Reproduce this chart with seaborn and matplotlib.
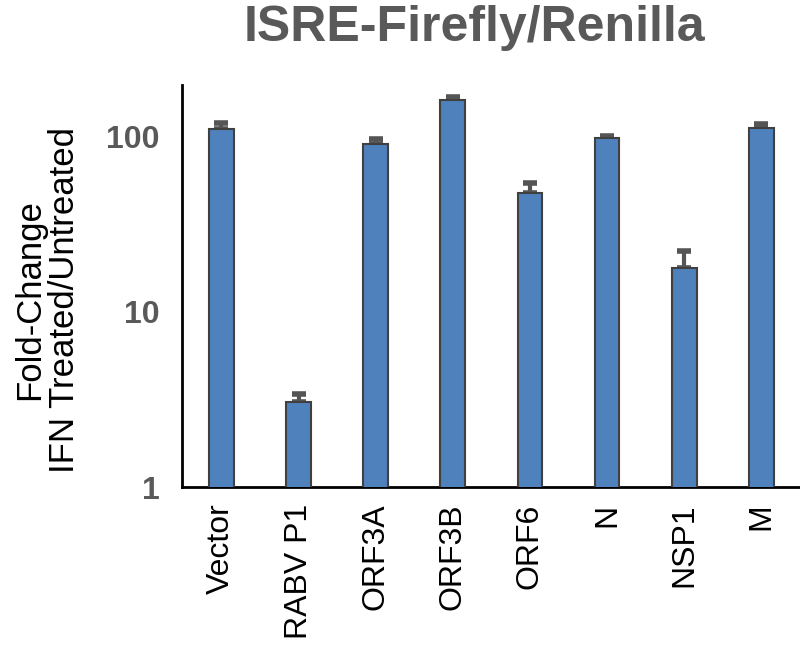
import matplotlib
matplotlib.use("Agg")
import matplotlib.pyplot as plt
import seaborn as sns
import pandas as pd
from matplotlib.ticker import FixedLocator, NullLocator, FixedFormatter

# values (log axis)
constructs = ['Vector', 'RABV P1', 'ORF3A', 'ORF3B', 'ORF6', 'N', 'NSP1', 'M']
fold_change = [109.6, 3.05, 90.0, 160.0, 47.3, 97.5, 17.7, 111.0]
error_up = [10.0, 0.32, 6.0, 7.0, 7.0, 2.5, 4.5, 7.0]
y_ticks = [1, 10, 100]
y_tick_labels = ['1', '10', '100']

df = pd.DataFrame({'construct': constructs, 'fold': fold_change})

sns.set_theme(style="white")
plt.rcParams['font.family'] = ['Liberation Sans', 'DejaVu Sans']

fig = plt.figure(figsize=(8, 6.56), dpi=100)
ax = fig.add_axes([0.2275, 0.2576, 0.7725, 0.6124])
ax.set_yscale('log')

sns.barplot(data=df, x='construct', y='fold', color='#4F81BD', width=0.32,
            edgecolor='#404040', linewidth=1.5, saturation=1, ax=ax, zorder=3)

# upper error bars only, lower cap hidden behind the bar
ax.errorbar(range(len(constructs)), fold_change, yerr=[[0] * len(error_up), error_up],
            fmt='none', ecolor='#555555', elinewidth=3, capsize=5, capthick=4, zorder=2)

ax.set_ylim(1, 195)
ax.set_xlim(-0.51, 7.5)
ax.yaxis.set_major_locator(FixedLocator(y_ticks))
ax.yaxis.set_major_formatter(FixedFormatter(y_tick_labels))
ax.yaxis.set_minor_locator(NullLocator())

for lab in ax.get_yticklabels():
    lab.set_fontweight('bold')
    lab.set_color('#595959')
    lab.set_fontsize(23)
ax.tick_params(axis='y', length=0, pad=16)
ax.tick_params(axis='x', length=0, pad=12, labelsize=23, labelcolor='black', rotation=90)

ax.set_xlabel('')
ax.set_ylabel('')
for side in ['top', 'right']:
    ax.spines[side].set_visible(False)
for side in ['left', 'bottom']:
    ax.spines[side].set_color('black')
    ax.spines[side].set_linewidth(2)

fig.text(0.059, 0.543, 'Fold-Change\nIFN Treated/Untreated', rotation=90,
         ha='center', va='center', fontsize=25, color='black', linespacing=1.1)
fig.text(0.593, 0.958, 'ISRE-Firefly/Renilla', ha='center', va='center',
         fontsize=36, fontweight='bold', color='#595959')

fig.savefig('out.png', dpi=100)
